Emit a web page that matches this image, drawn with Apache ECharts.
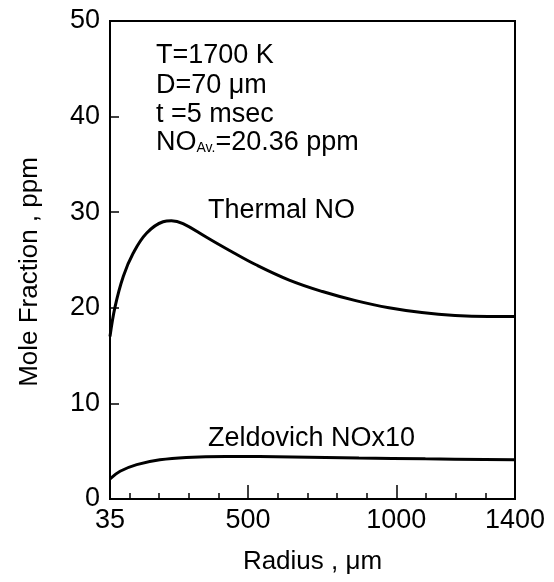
<!DOCTYPE html>
<html><head><meta charset="utf-8">
<script src="https://cdn.jsdelivr.net/npm/echarts@6/dist/echarts.min.js"></script>
<style>html,body{margin:0;padding:0;background:#fff}#c{width:554px;height:582px}</style>
</head><body><div id="c"></div>
<script>
var xLabelValues = [35, 500, 1000, 1400];
var xMinorTicks = [100, 200, 300, 400, 600, 700, 800, 900, 1100, 1200, 1300];
var xMajorTicks = [500, 1000];
var yTicks = [10, 20, 30, 40];
var thermalR = [35, 52, 80, 113, 158, 214, 242, 281, 359, 438, 527, 639, 751, 863, 975, 1086, 1198, 1310, 1400];
var thermalNO = [17.0, 20.1, 23.3, 25.7, 27.8, 29.0, 29.1, 28.8, 27.4, 26.0, 24.5, 22.9, 21.7, 20.75, 20.0, 19.5, 19.2, 19.1, 19.1];
var zeldR = [35, 69, 125, 203, 292, 426, 650, 874, 1098, 1400];
var zeldNO = [2.1, 2.9, 3.6, 4.1, 4.35, 4.45, 4.4, 4.3, 4.2, 4.1];

function pairs(a, b) { return a.map(function (v, i) { return [v, b[i]]; }); }
var FONT = 'Liberation Sans';
var chart = echarts.init(document.getElementById('c'));
chart.setOption({
  animation: false,
  backgroundColor: '#fff',
  grid: { left: 110, right: 39, top: 21, bottom: 83, show: true, borderColor: '#000', borderWidth: 2, backgroundColor: 'transparent' },
  xAxis: [{
    type: 'value', min: 35, max: 1400,
    name: 'Radius , \u03bcm', nameLocation: 'middle', nameGap: 50,
    nameTextStyle: { fontFamily: FONT, fontSize: 26, color: '#000' },
    axisLine: { lineStyle: { color: '#000', width: 2 } },
    axisTick: { inside: true, length: 6, customValues: xMinorTicks, lineStyle: { color: '#000', width: 1.5 } },
    axisLabel: { customValues: xLabelValues, fontFamily: FONT, fontSize: 27, color: '#000', margin: 8,
      formatter: function (v) { return String(v); } },
    splitLine: { show: false }
  }, {
    type: 'value', min: 35, max: 1400, position: 'bottom', offset: 0,
    axisLine: { show: false },
    axisTick: { inside: true, length: 14, customValues: xMajorTicks, lineStyle: { color: '#000', width: 1.5 } },
    axisLabel: { show: false },
    splitLine: { show: false }
  }],
  yAxis: {
    type: 'value', min: 0, max: 50, interval: 10,
    axisLine: { show: true, lineStyle: { color: '#000', width: 2 } },
    axisTick: { show: true, inside: true, length: 9, customValues: yTicks, lineStyle: { color: '#000', width: 1.5 } },
    axisLabel: { fontFamily: FONT, fontSize: 27, color: '#000', margin: 10 },
    splitLine: { show: false }
  },
  series: [{
    type: 'line', data: pairs(thermalR, thermalNO), smooth: 0.4, showSymbol: false,
    lineStyle: { color: '#000', width: 3 }
  }, {
    type: 'line', data: pairs(zeldR, zeldNO), smooth: 0.4, showSymbol: false,
    lineStyle: { color: '#000', width: 3 }
  }],
  graphic: [{
    type: 'text', x: 30, y: 272, rotation: Math.PI / 2,
    style: { text: 'Mole Fraction , ppm', font: '26px "Liberation Sans"', fill: '#000', align: 'center', verticalAlign: 'middle' }
  }, {
    type: 'text', left: 156, top: 41,
    style: { text: 'T=1700 K\nD=70 \u03bcm\nt =5 msec', font: '27px "Liberation Sans"', fill: '#000', lineHeight: 29.5 }
  }, {
    type: 'text', left: 156, top: 129,
    style: {
      text: '{m|NO}{s|Av.}{m|=20.36 ppm}', fill: '#000',
      rich: {
        m: { fontFamily: FONT, fontSize: 27, lineHeight: 29, fill: '#000' },
        s: { fontFamily: FONT, fontSize: 14, padding: [12, 0, 0, 0], fill: '#000' }
      }
    }
  }, {
    type: 'text', left: 208, top: 196,
    style: { text: 'Thermal NO', font: '27px "Liberation Sans"', fill: '#000', lineHeight: 29 }
  }, {
    type: 'text', left: 208, top: 424,
    style: { text: 'Zeldovich NOx10', font: '27px "Liberation Sans"', fill: '#000', lineHeight: 29 }
  }]
});
</script></body></html>
